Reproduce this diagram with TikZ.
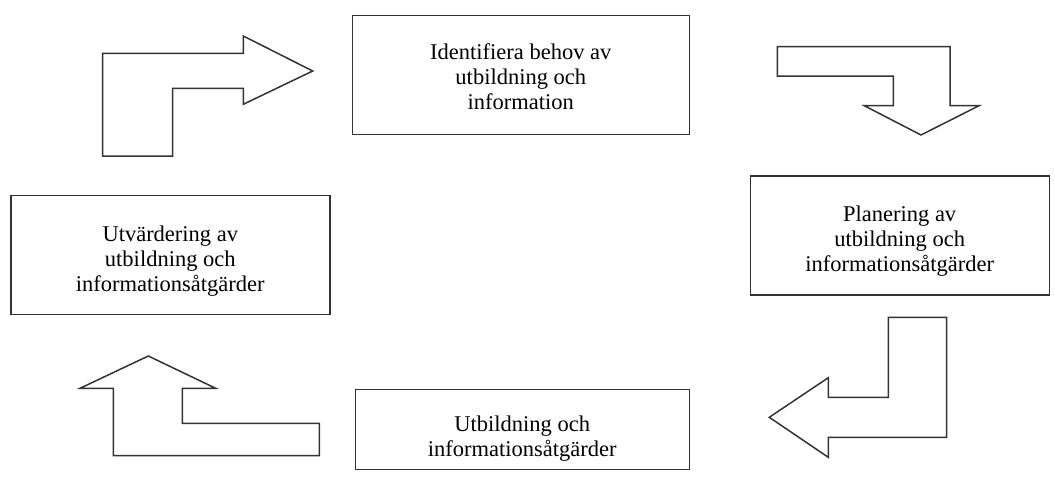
\documentclass[tikz,border=0pt]{standalone}
\usepackage{fontspec}
\setmainfont{Liberation Serif}
\usepackage{tikz}

\begin{document}
\begin{tikzpicture}[x=1pt,y=-1pt,
box/.style={draw=black!80,line width=1.4pt,rectangle,inner sep=0pt},
txt/.style={align=center,font=\fontsize{22.5}{25}\selectfont},
blk/.style={draw=black!80,line width=1.5pt,line join=miter,fill=white}]
\useasboundingbox(0,0)rectangle(1055,477);
% the four boxes
\node[box,minimum width=337,minimum height=119](ident)at(520.8,74.7){};
\node[box,minimum width=299,minimum height=119](plan)at(899.7,235.5){};
\node[box,minimum width=334,minimum height=80](utb)at(522.2,429.3){};
\node[box,minimum width=319,minimum height=119](utv)at(170.3,254.7){};
\node[txt](identtxt)at([yshift=-2pt]ident.center){Identifiera behov av\\utbildning och\\information};
\node[txt](plantxt)at([yshift=-6pt]plan.center){Planering av\\utbildning och\\informationsåtgärder};
\node[txt](utbtxt)at([yshift=-9pt]utb.center){Utbildning och\\informationsåtgärder};
\node[txt](utvtxt)at([yshift=-6pt]utv.center){Utvärdering av\\utbildning och\\informationsåtgärder};
% block arrows
\draw[blk](102.7,156)--(102.7,53.3)--(243.3,53.3)--(243.3,36)--(312.7,71)--(243.3,104.3)--(243.3,88.3)--(172.7,88.3)--(172.7,156)--cycle;
\draw[blk](777.3,46.7)--(950,46.7)--(950,105.7)--(979,105.7)--(921,135)--(864.3,105.7)--(893.3,105.7)--(893.3,76)--(777.3,76)--cycle;
\draw[blk](888.3,317.3)--(946.7,317.3)--(946.7,437.3)--(828.3,437.3)--(828.3,457.3)--(769.3,417.3)--(828.3,377.7)--(828.3,397.3)--(888.3,397.3)--cycle;
\draw[blk](113.3,455.7)--(113.3,388.3)--(80,388.3)--(148.3,356)--(215.7,388.3)--(182.3,388.3)--(182.3,423.3)--(319.3,423.3)--(319.3,455.7)--cycle;
\end{tikzpicture}
\end{document}
